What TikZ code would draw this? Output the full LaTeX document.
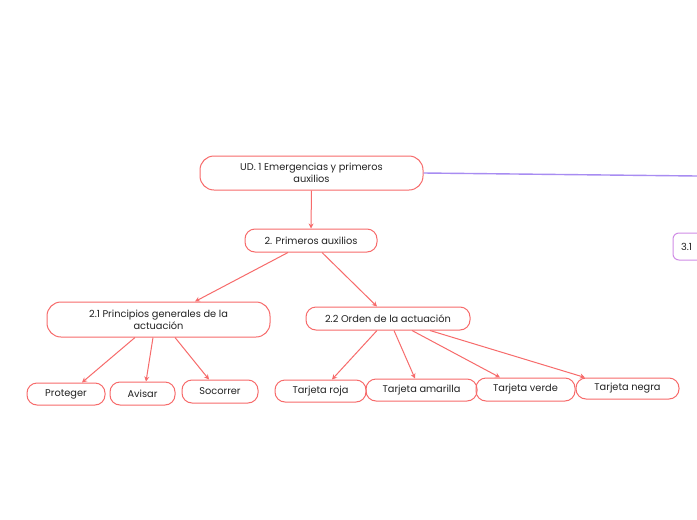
\documentclass[tikz,border=0pt]{standalone}
\usepackage{fontspec}
\setmainfont{Poppins}
\usetikzlibrary{arrows.meta}
\definecolor{boxred}{HTML}{F76B6B}
\definecolor{txt}{HTML}{222222}
\definecolor{lilac}{HTML}{A88CF2}
\definecolor{pinkp}{HTML}{D08CE6}
\begin{document}
\begin{tikzpicture}[x=1pt,y=-1pt,
  box/.style={draw=boxred, line width=1pt, rounded corners=10pt, text=txt,
    font=\fontsize{9.8}{12}\selectfont, align=center, inner sep=0pt},
  conn/.style={draw=boxred, line width=1pt, -{Stealth[length=5pt,width=5pt]}}]
\useasboundingbox (0,0) rectangle (697,520);
\fill[white] (0,0) rectangle (697,520);
\clip (0,0) rectangle (697,520);
% nodes
\node[box, rounded corners=14pt, minimum width=223pt, minimum height=34pt] (ud) at (311.5,173)
  {UD. 1 Emergencias y primeros\\auxilios};
\node[box, minimum width=132pt, minimum height=23pt] (pa) at (311,240.5) {2. Primeros auxilios};
\node[box, rounded corners=14pt, minimum width=223pt, minimum height=35pt] (pg) at (158.5,319.5)
  {2.1 Principios generales de la\\actuación};
\node[box, minimum width=164pt, minimum height=23pt] (oa) at (388,318.5) {2.2 Orden de la actuación};
\node[box, minimum width=78pt, minimum height=22pt] (pr) at (66,394) {Proteger};
\node[box, minimum width=65pt, minimum height=23pt] (av) at (142.5,393.5) {Avisar};
\node[box, minimum width=76pt, minimum height=23pt] (so) at (220,391.5) {Socorrer};
\node[box, minimum width=91pt, minimum height=22pt] (tr) at (320.5,391) {Tarjeta roja};
\node[box, minimum width=111pt, minimum height=22pt] (ta) at (421.5,390) {Tarjeta amarilla};
\node[box, minimum width=99pt, minimum height=23pt] (tv) at (525.5,389.5) {Tarjeta verde};
\node[box, minimum width=103pt, minimum height=21pt] (tn) at (627.5,388.5) {Tarjeta negra};
\node[box, draw=pinkp, rounded corners=6pt, minimum width=60pt, minimum height=27pt,
  text width=56pt, align=left] (t31) at (703,246.5) {\hspace*{6pt}3.1};
\coordinate (re) at (697,176);
% connectors
\draw[lilac, line width=1.4pt] (ud.east) -- (re);
\draw[conn] (ud.south) -- (pa.north);
\draw[conn] ([xshift=-23pt]pa.south) -- ([xshift=36.5pt]pg.north);
\draw[conn] ([xshift=11pt]pa.south) -- ([xshift=-11pt]oa.north);
\draw[conn] ([xshift=-23.5pt]pg.south) -- ([xshift=16pt]pr.north);
\draw[conn] ([xshift=-5.5pt]pg.south) -- ([xshift=3.5pt]av.north);
\draw[conn] ([xshift=16.5pt]pg.south) -- ([xshift=-11pt]so.north);
\draw[conn] ([xshift=-11pt]oa.south) -- ([xshift=11.5pt]tr.north);
\draw[conn] ([xshift=6pt]oa.south) -- ([xshift=-6.5pt]ta.north);
\draw[conn] ([xshift=24pt]oa.south) -- ([xshift=-25.5pt]tv.north);
\draw[conn] ([xshift=42pt]oa.south) -- ([xshift=-42.5pt]tn.north);
\end{tikzpicture}
\end{document}
